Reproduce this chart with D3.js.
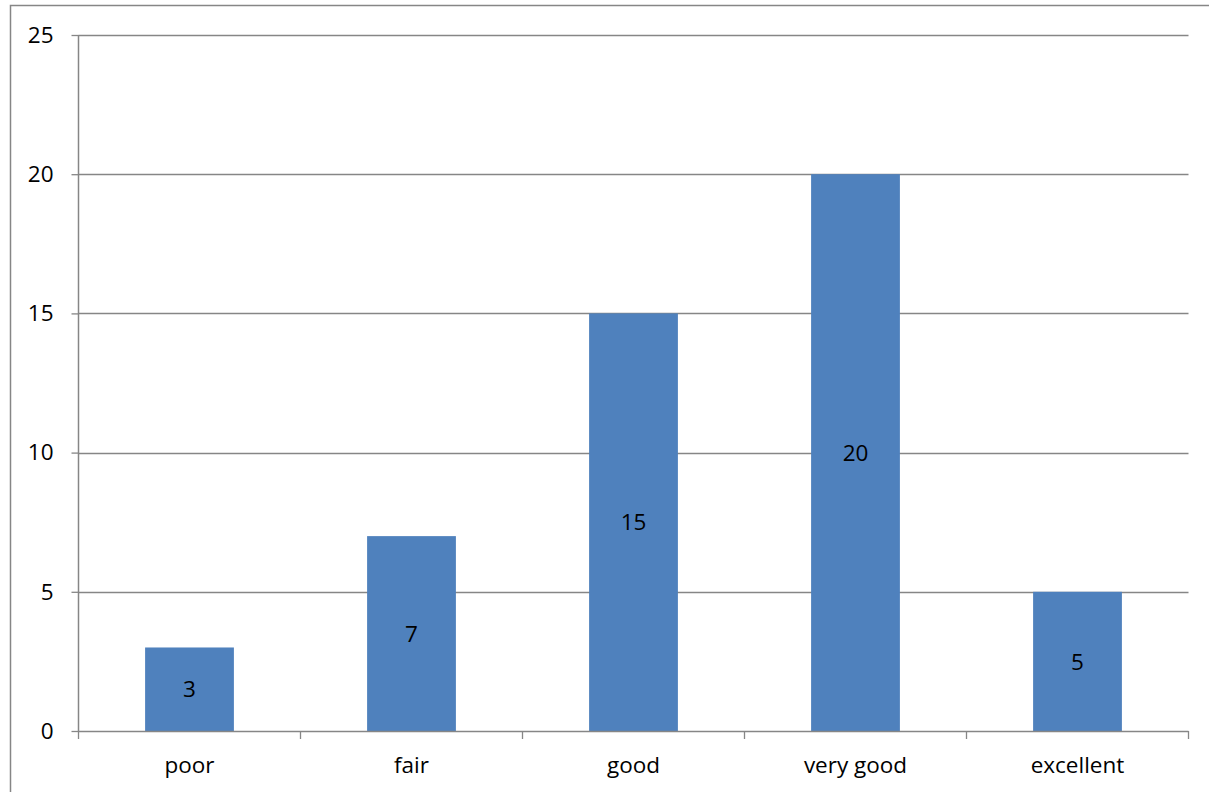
<!DOCTYPE html>
<html><head><meta charset="utf-8">
<script src="https://cdn.jsdelivr.net/npm/d3@7"></script>
<style>html,body{margin:0;padding:0;background:#fff;overflow:hidden}</style>
</head><body>
<svg id="c" width="1209" height="792"></svg>
<script>
const categories = ["poor", "fair", "good", "very good", "excellent"];
const values = [3, 7, 15, 20, 5];
const yTicks = [0, 5, 10, 15, 20, 25];

const svg = d3.select("#c");
const font = "'Open Sans', sans-serif";
const fs = 22.5;
const m = {left: 78.5, right: 1188.5, top: 35, bottom: 731};

svg.append("rect").attr("x", 10.5).attr("y", 5.5).attr("width", 1300).attr("height", 900)
  .attr("fill", "none").attr("stroke", "#868686").attr("stroke-width", 1.5);

const x = d3.scaleBand().domain(categories).range([m.left, m.right]).paddingInner(0).paddingOuter(0);
const y = d3.scaleLinear().domain([0, 25]).range([m.bottom, m.top]);

// gridlines
svg.append("g").selectAll("line").data(yTicks.filter(d => d > 0)).join("line")
  .attr("x1", m.left).attr("x2", m.right)
  .attr("y1", d => Math.round(y(d)) + 0.5).attr("y2", d => Math.round(y(d)) + 0.5)
  .attr("stroke", "#868686").attr("stroke-width", 1.3);

// bars
const bw = x.bandwidth() * 0.4;
svg.append("g").selectAll("rect").data(values).join("rect")
  .attr("x", (d, i) => x(categories[i]) + (x.bandwidth() - bw) / 2)
  .attr("y", d => y(d))
  .attr("width", bw)
  .attr("height", d => y(0) - y(d))
  .attr("fill", "#4F81BD");

// bar labels
svg.append("g").selectAll("text").data(values).join("text")
  .attr("x", (d, i) => x(categories[i]) + x.bandwidth() / 2)
  .attr("y", d => (y(d) + y(0)) / 2)
  .attr("dy", "0.36em")
  .attr("text-anchor", "middle")
  .attr("font-family", font).attr("font-size", fs).attr("fill", "#000")
  .text(d => d);

// y axis
const yAxis = svg.append("g").attr("transform", `translate(${m.left},0)`)
  .call(d3.axisLeft(y).tickValues(yTicks).tickSize(7).tickPadding(18).tickFormat(d3.format("d")));
yAxis.select(".domain").attr("stroke", "#868686").attr("stroke-width", 1.5).attr("d", `M0,${m.top}V${m.bottom}`);
yAxis.selectAll(".tick line").attr("stroke", "#868686").attr("stroke-width", 1.3);
yAxis.selectAll("text").attr("font-family", font).attr("font-size", fs).attr("fill", "#000");

// x axis
const xAxisG = svg.append("g").attr("transform", `translate(0,${m.bottom})`);
xAxisG.append("line").attr("x1", m.left).attr("x2", m.right).attr("y1", 0.5).attr("y2", 0.5)
  .attr("stroke", "#868686").attr("stroke-width", 1.5);
const bounds = categories.map(c => x(c)).concat([m.right]);
xAxisG.selectAll("line.tk").data(bounds).join("line").attr("class", "tk")
  .attr("x1", d => d).attr("x2", d => d).attr("y1", 0).attr("y2", 8)
  .attr("stroke", "#868686").attr("stroke-width", 1.3);
xAxisG.selectAll("text").data(categories).join("text")
  .attr("x", d => x(d) + x.bandwidth() / 2).attr("y", 42)
  .attr("text-anchor", "middle")
  .attr("font-family", font).attr("font-size", fs).attr("fill", "#000")
  .text(d => d);
</script>
</body></html>
